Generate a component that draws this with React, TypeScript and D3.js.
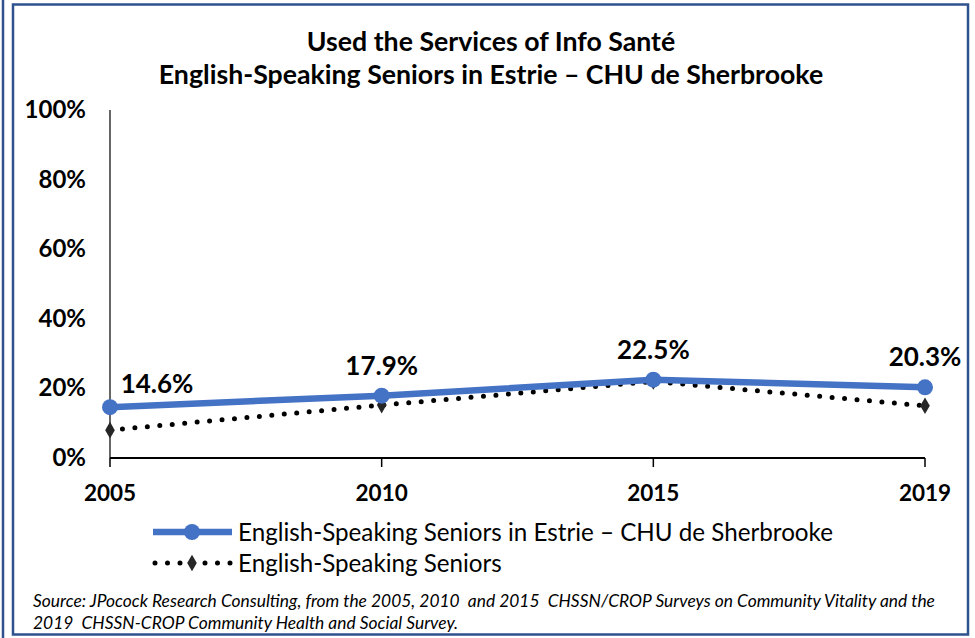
import React from 'react';
import * as d3 from 'd3';

// survey years and percentages
const years = ['2005', '2010', '2015', '2019'];
const estrieSeniors = [14.6, 17.9, 22.5, 20.3];
const allSeniors = [8.0, 15.2, 22.0, 15.0];
const yTicks = [0, 20, 40, 60, 80, 100];

const titleLines = [
  'Used the Services of Info Santé',
  'English-Speaking Seniors in Estrie – CHU de Sherbrooke',
];
const legendLabels = [
  'English-Speaking Seniors in Estrie – CHU de Sherbrooke',
  'English-Speaking Seniors',
];
const sourceLines = [
  'Source: JPocock Research Consulting, from the 2005, 2010  and 2015  CHSSN/CROP Surveys on Community Vitality and the',
  '2019  CHSSN-CROP Community Health and Social Survey.',
];

const W = 975;
const H = 638;
const FONT = 'Lato, "Open Sans", sans-serif';
const BLUE = '#4472C4';

function App() {
  const x = d3.scalePoint<string>().domain(years).range([110, 925]);
  const y = d3.scaleLinear().domain([0, 100]).range([458, 110]);

  const line = d3.line<number>()
    .x((_, i) => x(years[i]) as number)
    .y(d => y(d));

  const diamond = d3.symbol(d3.symbolDiamond, 80)() || '';

  return (
    <svg width={W} height={H} style={{ position: 'absolute', left: 0, top: 0, background: '#fff' }}
      fontFamily={FONT}>
      {/* frame */}
      <line x1={3} y1={0} x2={3} y2={H} stroke="#2F528F" strokeWidth={2.5} />
      <rect x={13} y={4.5} width={955} height={630} fill="none" stroke="#2F528F" strokeWidth={2.5} />

      {/* title */}
      {titleLines.map((t, i) => (
        <text key={i} x={491} y={51 + i * 33} textAnchor="middle" fontSize={26.7} fontWeight="bold" fill="#000">
          {t}
        </text>
      ))}

      {/* y axis */}
      <line x1={110} y1={110} x2={110} y2={458} stroke="#000" strokeWidth={1.2} />
      {yTicks.map(t => (
        <text key={t} x={86} y={y(t) + 8} textAnchor="end" fontSize={24} fontWeight="bold" fill="#000">
          {t}%
        </text>
      ))}

      {/* x axis */}
      <line x1={110} y1={458} x2={925} y2={458} stroke="#000" strokeWidth={2} />
      {years.map(yr => (
        <g key={yr}>
          <line x1={x(yr)} y1={458} x2={x(yr)} y2={467} stroke="#000" strokeWidth={1.5} />
          <text x={x(yr)} y={501} textAnchor="middle" fontSize={22.5} fontWeight="bold" fill="#000">
            {yr}
          </text>
        </g>
      ))}

      {/* all english-speaking seniors: dotted black */}
      <path d={line(allSeniors) || ''} fill="none" stroke="#000" strokeWidth={5}
        strokeDasharray="0 12.5" strokeLinecap="round" />
      {allSeniors.map((v, i) => (
        <path key={i} d={diamond}
          transform={`translate(${x(years[i])},${y(v)})`} fill="#262626" />
      ))}

      {/* estrie seniors: blue line */}
      <path d={line(estrieSeniors) || ''} fill="none" stroke={BLUE} strokeWidth={6.5} strokeLinejoin="round" />
      {estrieSeniors.map((v, i) => (
        <circle key={i} cx={x(years[i])} cy={y(v)} r={8} fill={BLUE} />
      ))}

      {/* data labels */}
      {estrieSeniors.map((v, i) => (
        <text key={i}
          x={i === 0 ? (x(years[i]) as number) + 47 : (x(years[i]) as number)}
          y={i === 0 ? y(v) - 14 : y(v) - 21}
          textAnchor="middle" fontSize={26} fontWeight="bold" fill="#000">
          {v.toFixed(1)}%
        </text>
      ))}

      {/* legend */}
      <g>
        <line x1={153} y1={532} x2={232} y2={532} stroke={BLUE} strokeWidth={6.5} />
        <circle cx={192} cy={532} r={8} fill={BLUE} />
        <text x={238} y={541} fontSize={24.2} fill="#000">{legendLabels[0]}</text>

        <line x1={155} y1={563} x2={232} y2={563} stroke="#000" strokeWidth={5}
          strokeDasharray="0 12.5" strokeLinecap="round" />
        <path d={diamond} transform="translate(192,563)" fill="#262626" />
        <text x={238} y={572} fontSize={24.2} fill="#000">{legendLabels[1]}</text>
      </g>

      {/* source */}
      {sourceLines.map((s, i) => (
        <text key={i} x={33} y={607} dy={i * 22} fontSize={17.4} fontStyle="italic" fill="#000"
          style={{ whiteSpace: 'pre' }}>
          {s}
        </text>
      ))}
    </svg>
  );
}

export default App;
